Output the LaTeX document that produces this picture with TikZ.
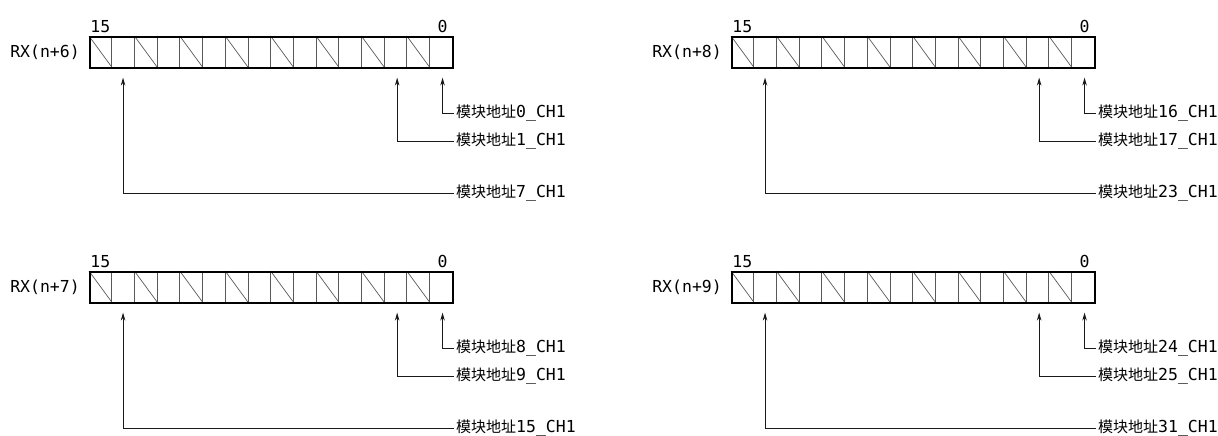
\documentclass[tikz,border=0pt]{standalone}
\usepackage{fontspec}
\setmainfont{DejaVu Sans Mono}
\newfontfamily\cjk{Noto Sans CJK SC}[Scale=0.91]
\usetikzlibrary{arrows.meta}

\begin{document}
\begin{tikzpicture}[>={Stealth[length=8pt,width=4.5pt]},x=1pt,y=-1pt,
  lbl/.style={font=\fontsize{16.5}{18}\selectfont,inner sep=2pt},
  cell/.style={draw=black!65,line width=0.7pt},
  lead/.style={draw=black!90,line width=0.9pt}]
\useasboundingbox (0,0) rectangle (1218,436);
\foreach \bx/\by/\w/\ma/\mb/\mc in {89/36/6/0/1/7, 89/271/7/8/9/15, 731/36/8/16/17/23, 731/271/9/24/25/31}{
\begin{scope}[shift={(\bx,\by)}]
  % cells and unused bits
  \foreach \i in {1,...,15} \draw[cell] (\i*22.7,0) -- (\i*22.7,31);
  \foreach \i in {0,2,...,14} \draw[cell] (\i*22.7,0) -- (\i*22.7+22.7,31);
  \node[draw,line width=1.6pt,minimum width=363.3pt,minimum height=31pt,inner sep=0pt,anchor=north west] (reg\w) at (0,0) {};
  \node[lbl,anchor=east] (name\w) at ([xshift=-7pt]reg\w.west) {RX(n+\w)};
  \node[lbl,anchor=south] (hi\w) at ([xshift=11.35pt,yshift=1pt]reg\w.north west) {15};
  \node[lbl,anchor=south] (lo\w) at ([xshift=-11.35pt,yshift=1pt]reg\w.north east) {0};
  \coordinate (t\w-0) at ([xshift=-11.35pt,yshift=-9pt]reg\w.south east);
  \coordinate (t\w-2) at ([xshift=-56.75pt,yshift=-9pt]reg\w.south east);
  \coordinate (t\w-14) at ([xshift=34.05pt,yshift=-9pt]reg\w.south west);
  \node[lbl,anchor=west] (m\ma) at ([yshift=-45pt]reg\w.south east) {{\cjk 模块地址}\ma\_CH1};
  \node[lbl,anchor=west] (m\mb) at ([yshift=-73pt]reg\w.south east) {{\cjk 模块地址}\mb\_CH1};
  \node[lbl,anchor=west] (m\mc) at ([yshift=-125pt]reg\w.south east) {{\cjk 模块地址}\mc\_CH1};
  \draw[lead,->] (m\ma.west) -| (t\w-0);
  \draw[lead,->] (m\mb.west) -| (t\w-2);
  \draw[lead,->] (m\mc.west) -| (t\w-14);
\end{scope}
}
\end{tikzpicture}
\end{document}
